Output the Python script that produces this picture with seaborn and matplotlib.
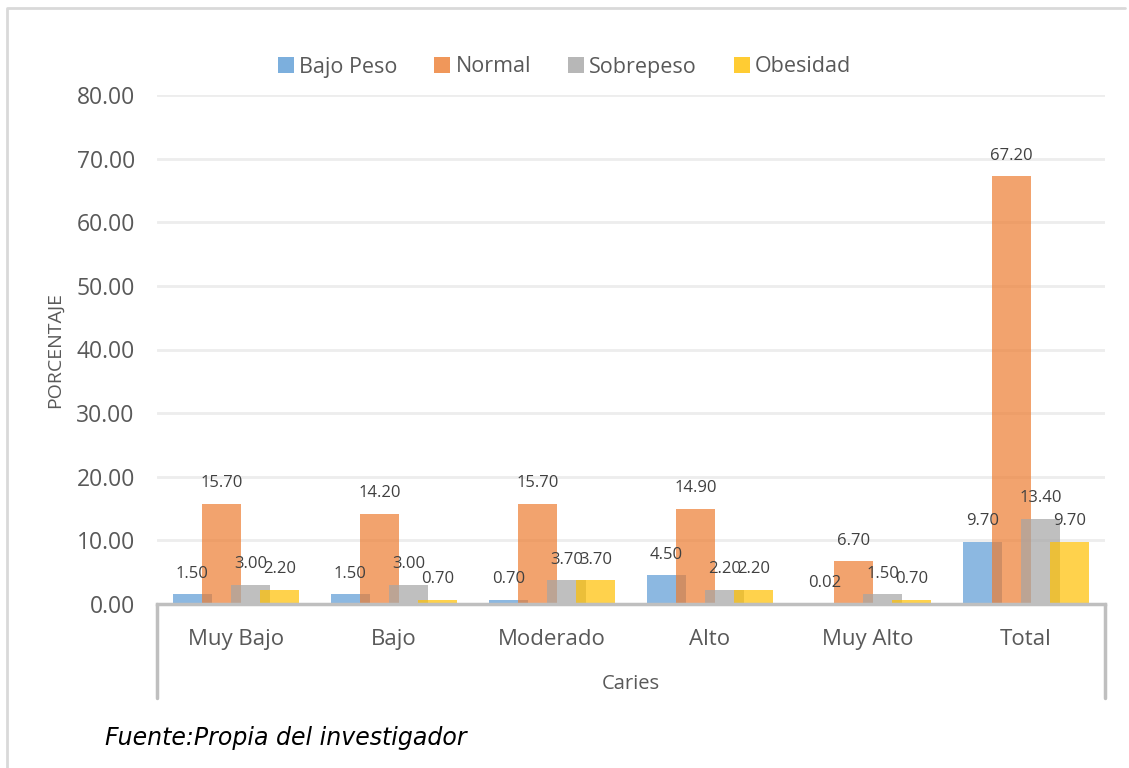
import matplotlib
matplotlib.use("Agg")
import matplotlib.pyplot as plt
from matplotlib.patches import Patch
from matplotlib.lines import Line2D
import seaborn as sns
import pandas as pd

categories = ["Muy Bajo", "Bajo", "Moderado", "Alto", "Muy Alto", "Total"]
series_names = ["Bajo Peso", "Normal", "Sobrepeso", "Obesidad"]
bajo_peso = [1.50, 1.50, 0.70, 4.50, 0.02, 9.70]
normal = [15.70, 14.20, 15.70, 14.90, 6.70, 67.20]
sobrepeso = [3.00, 3.00, 3.70, 2.20, 1.50, 13.40]
obesidad = [2.20, 0.70, 3.70, 2.20, 0.70, 9.70]
yticks = [0, 10, 20, 30, 40, 50, 60, 70, 80]

colors = ["#5B9BD5", "#ED7D31", "#A5A5A5", "#FFC000"]
ALPHA = 0.7

rows = []
for name, vals in zip(series_names, [bajo_peso, normal, sobrepeso, obesidad]):
    for c, v in zip(categories, vals):
        rows.append({"Caries": c, "Serie": name, "Valor": v})
df = pd.DataFrame(rows)

sns.set_theme(style="white")
plt.rcParams["font.family"] = ["Open Sans", "DejaVu Sans"]

fig = plt.figure(figsize=(11.29, 7.68), dpi=100)
ax = fig.add_axes([157 / 1129, 1 - 604 / 768, (1105 - 157) / 1129, (604 - 95) / 768])

sns.barplot(data=df, x="Caries", y="Valor", hue="Serie", order=categories,
            hue_order=series_names, palette=colors, width=0.735, gap=0,
            legend=False, ax=ax, saturation=1, errorbar=None)

BAR_W = 0.247
for container in ax.containers:
    for p in container:
        cx = p.get_x() + p.get_width() / 2
        p.set_width(BAR_W)
        p.set_x(cx - BAR_W / 2)
        p.set_alpha(ALPHA)
        p.set_edgecolor("none")
        p.set_linewidth(0)
    for p in container:
        h = p.get_height()
        ax.annotate(f"{h:.2f}", (p.get_x() + p.get_width() / 2, h),
                    xytext=(0, 15), textcoords="offset points",
                    ha="center", va="center", fontsize=12, color="#404040")

ax.set_ylim(0, 80)
ax.set_xlim(-0.5, 5.5)
ax.set_yticks(yticks)
ax.set_yticklabels([f"{t:.2f}" for t in yticks])
ax.yaxis.grid(True, color="#EDEDED", linewidth=2)
ax.set_axisbelow(True)
for s in ["top", "right", "left"]:
    ax.spines[s].set_visible(False)
ax.spines["bottom"].set_color("#BFBFBF")
ax.spines["bottom"].set_linewidth(2.5)
ax.tick_params(axis="y", length=0, pad=16, labelsize=16.5, labelcolor="#595959")
ax.tick_params(axis="x", length=0, pad=18, labelsize=16, labelcolor="#595959")
ax.set_ylabel("PORCENTAJE", fontsize=14, color="#595959", labelpad=9)
ax.set_xlabel("")

# category axis box (vertical lines under the axis)
box_depth = (698 - 604) / (604 - 95)
for xx in [0, 1]:
    ax.add_line(Line2D([xx, xx], [0, -box_depth], transform=ax.transAxes,
                       color="#BFBFBF", linewidth=2.5, clip_on=False))

fig.text((157 + 1105) / 2 / 1129, 1 - 684 / 768, "Caries", ha="center", va="center",
         fontsize=14.5, color="#595959")

handles = [Patch(facecolor=c, edgecolor="none", alpha=ALPHA + 0.1) for c in colors]
leg = fig.legend(handles, series_names, loc="center", bbox_to_anchor=(0.5, 1 - 67 / 768),
                 ncol=4, frameon=False, fontsize=15.5, handlelength=0.75, handleheight=0.75,
                 handletextpad=0.25, columnspacing=1.7, labelcolor="#595959")

fig.text(105 / 1129, 1 - 738 / 768, "Fuente:Propia del investigador", ha="left",
         va="center", fontsize=17, style="italic", color="black",
         family=["DejaVu Sans"])

# outer chart frame
fig.add_artist(Line2D([7 / 1129, 7 / 1129, 1125 / 1129], [0, 1 - 8 / 768, 1 - 8 / 768],
                      transform=fig.transFigure, color="#D9D9D9", linewidth=2))

fig.savefig("out.png", dpi=100, facecolor="white")
